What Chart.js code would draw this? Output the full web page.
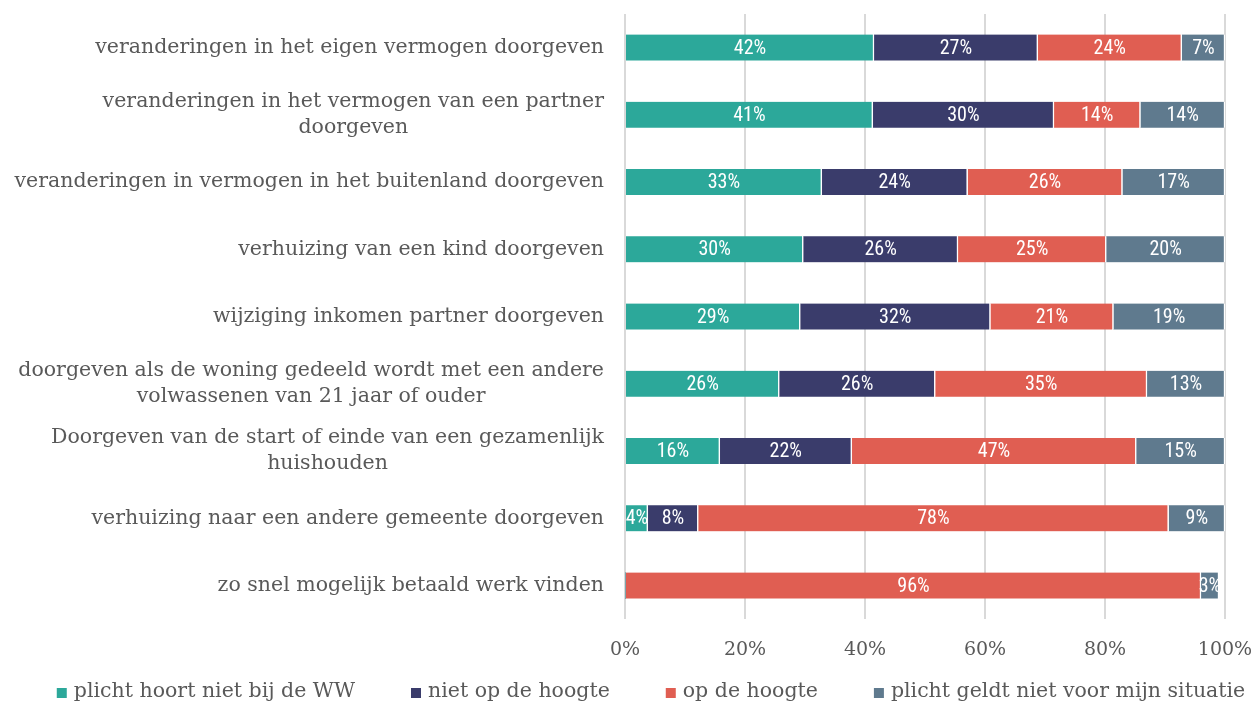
<!DOCTYPE html>
<html>
<head>
<meta charset="utf-8">
<script src="https://cdn.jsdelivr.net/npm/chart.js@4.4.1/dist/chart.umd.min.js"></script>
<style>
html,body{margin:0;padding:0;background:#fff;}
#wrap{width:1257px;height:707px;position:relative;}
</style>
</head>
<body>
<div id="wrap"><canvas id="c" width="1257" height="707"></canvas></div>
<script>
const categories = [
  ["veranderingen in het eigen vermogen doorgeven"],
  ["veranderingen in het vermogen van een partner", "doorgeven"],
  ["veranderingen in vermogen in het buitenland doorgeven"],
  ["verhuizing van een kind doorgeven"],
  ["wijziging inkomen partner doorgeven"],
  ["doorgeven als de woning gedeeld wordt met een andere", "volwassenen van 21 jaar of ouder"],
  ["Doorgeven van de start of einde van een gezamenlijk", "huishouden"],
  ["verhuizing naar een andere gemeente doorgeven"],
  ["zo snel mogelijk betaald werk vinden"]
];
const seriesNames = ["plicht hoort niet bij de WW", "niet op de hoogte", "op de hoogte", "plicht geldt niet voor mijn situatie"];
const plichtHoortNiet = [41.5, 41.3, 32.8, 29.7, 29.2, 25.7, 15.8, 3.8, 0];
const nietOpDeHoogte  = [27.3, 30.2, 24.3, 25.8, 31.7, 26.0, 22.0, 8.4, 0];
const opDeHoogte      = [24.0, 14.4, 25.8, 24.7, 20.5, 35.3, 47.4, 78.4, 96.0];
const geldtNiet       = [7.2, 14.1, 17.1, 19.8, 18.6, 13.0, 14.8, 9.4, 3.0];
const xTicks = [0, 20, 40, 60, 80, 100];
const colors = ["#2ca89a", "#3a3c6b", "#e05e52", "#5f7a8e"];

const serif = '"DejaVu Serif", "Liberation Serif", serif';
const narrow = '"Roboto Condensed", "Liberation Sans Narrow", Roboto, sans-serif';
const textColor = '#595959';

const valueLabels = {
  id: 'valueLabels',
  afterDatasetsDraw(chart) {
    const ctx = chart.ctx;
    ctx.save();
    ctx.font = '20px ' + narrow;
    ctx.fillStyle = '#ffffff';
    ctx.textAlign = 'center';
    ctx.textBaseline = 'middle';
    chart.data.datasets.forEach((ds, di) => {
      const meta = chart.getDatasetMeta(di);
      meta.data.forEach((el, i) => {
        const v = ds.data[i];
        if (!v) return;
        const cx = (el.x + el.base) / 2;
        ctx.fillText(Math.round(v) + '%', cx, el.y + 1);
      });
    });
    ctx.restore();
  }
};

const catLabels = {
  id: 'catLabels',
  afterDraw(chart) {
    const ctx = chart.ctx;
    const y = chart.scales.y;
    ctx.save();
    ctx.font = '20.5px ' + serif;
    ctx.fillStyle = textColor;
    ctx.textAlign = 'center';
    ctx.textBaseline = 'middle';
    const right = chart.chartArea.left - 21;
    const lh = 26;
    categories.forEach((lines, i) => {
      const cy = y.getPixelForValue(i);
      const maxW = Math.max(...lines.map(l => ctx.measureText(l).width));
      const cx = right - maxW / 2;
      const y0 = cy - (lines.length - 1) * lh / 2;
      lines.forEach((l, k) => ctx.fillText(l, cx, y0 + k * lh));
    });
    ctx.restore();
  }
};

const customLegend = {
  id: 'customLegend',
  afterDraw(chart) {
    const ctx = chart.ctx;
    ctx.save();
    ctx.font = '20.5px ' + serif;
    ctx.textBaseline = 'middle';
    ctx.textAlign = 'left';
    const box = 10, boxGap = 7, itemGap = 56;
    const widths = seriesNames.map(n => ctx.measureText(n).width);
    const total = widths.reduce((a, w) => a + box + boxGap + w, 0) + itemGap * (seriesNames.length - 1);
    let x = 651 - total / 2;
    const cy = 692;
    seriesNames.forEach((n, i) => {
      ctx.fillStyle = colors[i];
      ctx.fillRect(x, cy - box / 2 + 1, box, box);
      ctx.fillStyle = textColor;
      ctx.fillText(n, x + box + boxGap, cy);
      x += box + boxGap + widths[i] + itemGap;
    });
    ctx.restore();
  }
};

const mk = (i, data) => ({
  label: seriesNames[i],
  data: data,
  backgroundColor: colors[i],
  borderColor: '#ffffff',
  borderWidth: {left: 0, top: 0, bottom: 0, right: 1.5},
  borderSkipped: false,
  barThickness: 26
});

new Chart(document.getElementById('c'), {
  type: 'bar',
  data: {
    labels: categories.map(c => c.join(' ')),
    datasets: [mk(0, plichtHoortNiet), mk(1, nietOpDeHoogte), mk(2, opDeHoogte), mk(3, geldtNiet)]
  },
  options: {
    indexAxis: 'y',
    responsive: false,
    animation: false,
    devicePixelRatio: 1,
    layout: {padding: {left: 0, right: 32, top: 14, bottom: 27}},
    scales: {
      x: {
        stacked: true,
        min: 0, max: 100,
        afterBuildTicks: s => { s.ticks = xTicks.map(v => ({value: v})); },
        afterFit: s => { s.paddingRight = 0; s.paddingLeft = 0; },
        ticks: {
          callback: v => v + '%',
          color: textColor,
          font: {family: serif, size: 19},
          padding: 19
        },
        grid: {color: '#d9d9d9', lineWidth: 2, drawTicks: false},
        border: {display: false}
      },
      y: {
        stacked: true,
        afterFit: s => { s.width = 625; },
        ticks: {display: false},
        grid: {display: false},
        border: {display: false}
      }
    },
    plugins: {
      legend: {display: false},
      tooltip: {enabled: false}
    }
  },
  plugins: [valueLabels, catLabels, customLegend]
});
</script>
</body>
</html>
